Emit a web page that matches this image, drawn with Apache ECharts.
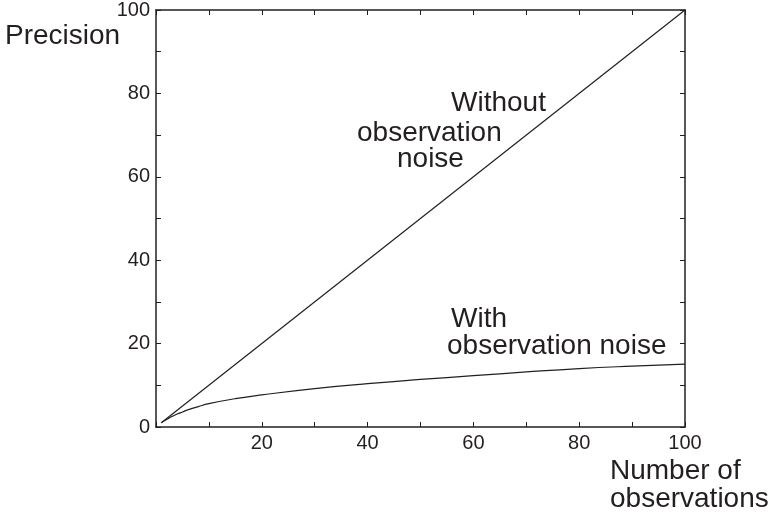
<!DOCTYPE html>
<html><head><meta charset="utf-8">
<script src="https://cdn.jsdelivr.net/npm/echarts@6/dist/echarts.min.js"></script>
<style>html,body{margin:0;padding:0;background:#fff}#c{width:770px;height:517px}</style>
</head><body><div id="c"></div>
<script>
const xNoNoise = [1, 100];
const yNoNoise = [1, 100];
const xNoise = [1, 2, 3, 4, 5, 6, 8, 10, 15, 20, 30, 40, 50, 60, 70, 80, 90, 100];
const yNoise = [1.0, 1.8, 2.5, 3.1, 3.6, 4.1, 4.9, 5.6, 6.8, 7.7, 9.2, 10.4, 11.4, 12.3, 13.2, 14.0, 14.6, 15.1];
const xTickLabels = [20, 40, 60, 80, 100];
const yTickLabels = [0, 20, 40, 60, 80, 100];

const ink = '#231f20';
const font = 'Liberation Sans, Arial, Helvetica, sans-serif';
const chart = echarts.init(document.getElementById('c'));
const axBase = {
  type: 'value', min: 0, max: 100, interval: 10,
  axisLine: {show: true, onZero: false, lineStyle: {color: ink, width: 1.5}},
  axisTick: {show: true, inside: true, length: 5, lineStyle: {color: ink, width: 1}},
  splitLine: {show: false}
};
chart.setOption({
  animation: false,
  backgroundColor: '#fff',
  grid: {left: 156, right: 85, top: 10, bottom: 90},
  xAxis: [
    Object.assign({}, axBase, {position: 'bottom',
      axisLabel: {show: true, margin: 6, color: ink, fontFamily: font, fontSize: 20,
        formatter: v => xTickLabels.includes(v) ? String(v) : ''}}),
    Object.assign({}, axBase, {position: 'top', axisLabel: {show: false}})
  ],
  yAxis: [
    Object.assign({}, axBase, {position: 'left',
      axisLabel: {show: true, margin: 6, color: ink, fontFamily: font, fontSize: 20,
        formatter: v => yTickLabels.includes(v) ? String(v) : ''}}),
    Object.assign({}, axBase, {position: 'right', axisLabel: {show: false}})
  ],
  series: [
    {type: 'line', data: xNoNoise.map((x, i) => [x, yNoNoise[i]]), showSymbol: false,
     lineStyle: {color: ink, width: 1.2}},
    {type: 'line', smooth: true, data: xNoise.map((x, i) => [x, yNoise[i]]), showSymbol: false,
     lineStyle: {color: ink, width: 1.2}}
  ],
  graphic: [
    {type: 'text', left: 5, top: 22, style: {text: 'Precision', fontSize: 28, fontFamily: font, fill: ink}},
    {type: 'text', left: 610, top: 457, style: {text: 'Number of', fontSize: 28, fontFamily: font, fill: ink}},
    {type: 'text', left: 610, top: 485, style: {text: 'observations', fontSize: 28, fontFamily: font, fill: ink}},
    {type: 'text', left: 451, top: 89, style: {text: 'Without', fontSize: 28, fontFamily: font, fill: ink}},
    {type: 'text', left: 357, top: 119, style: {text: 'observation', fontSize: 28, fontFamily: font, fill: ink}},
    {type: 'text', left: 397, top: 145, style: {text: 'noise', fontSize: 28, fontFamily: font, fill: ink}},
    {type: 'text', left: 451, top: 305, style: {text: 'With', fontSize: 28, fontFamily: font, fill: ink}},
    {type: 'text', left: 447, top: 332, style: {text: 'observation noise', fontSize: 28, fontFamily: font, fill: ink}}
  ]
});
</script></body></html>
